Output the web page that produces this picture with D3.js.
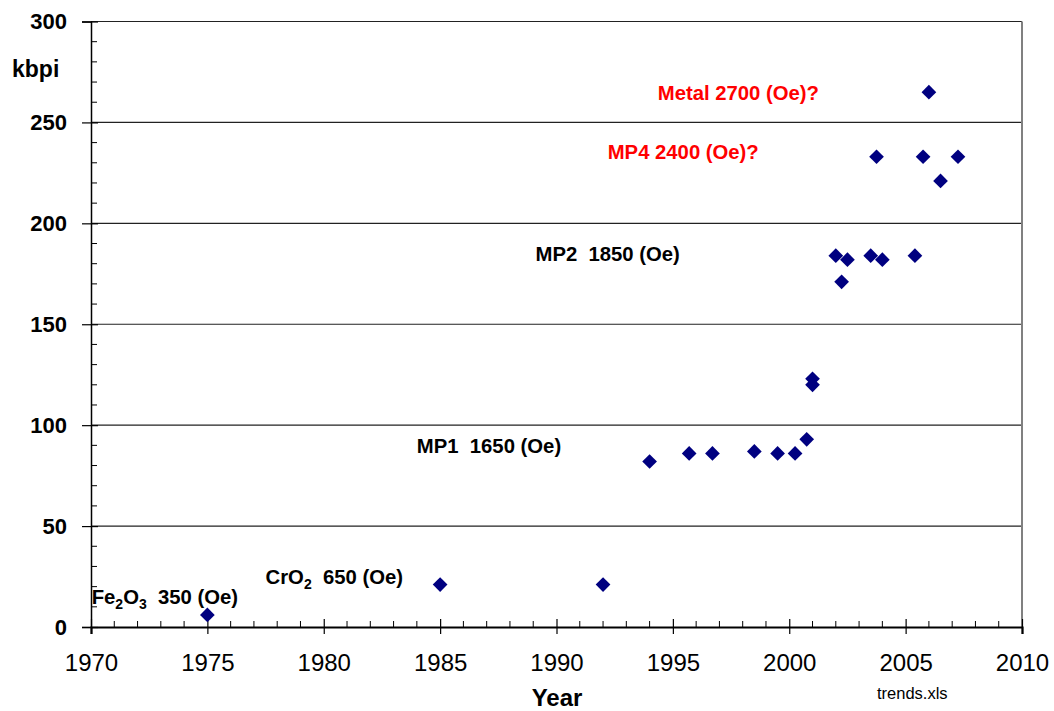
<!DOCTYPE html>
<html>
<head>
<meta charset="utf-8">
<script src="https://cdn.jsdelivr.net/npm/d3@7"></script>
<style>
  body { margin: 0; background: #fff; }
  svg { display: block; font-family: 'Liberation Sans', Arial, sans-serif; }
</style>
</head>
<body>
<div id="chart"></div>
<script>
// tape recording density by year
const years = [1975, 1985, 1992, 1994, 1995.7, 1996.7, 1998.5, 1999.5, 2000.25, 2000.75, 2001, 2001,
  2002, 2002.25, 2002.5, 2003.5, 2003.75, 2004, 2005.4, 2005.75, 2006, 2006.5, 2007.25]
const kbpi = [6, 21, 21, 82, 86, 86, 87, 86, 86, 93, 123, 120,
  184, 171, 182, 184, 233, 182, 184, 233, 265, 221, 233]

const xTicks = [1970, 1975, 1980, 1985, 1990, 1995, 2000, 2005, 2010]
const yTicks = [0, 50, 100, 150, 200, 250, 300]

// media annotations: [text parts, year, kbpi at baseline, colour]
const notes = [
  { parts: [['Fe', 0], ['2', 1], ['O', 0], ['3', 1], ['  350 (Oe)', 0]], x: 1970.03, y: 11.5, color: '#000' },
  { parts: [['CrO', 0], ['2', 1], ['  650 (Oe)', 0]], x: 1977.5, y: 21.5, color: '#000' },
  { parts: [['MP1  1650 (Oe)', 0]], x: 1984.0, y: 86, color: '#000' },
  { parts: [['MP2  1850 (Oe)', 0]], x: 1989.1, y: 181.5, color: '#000' },
  { parts: [['MP4 2400 (Oe)?', 0]], x: 1992.2, y: 232, color: '#ff0000' },
  { parts: [['Metal 2700 (Oe)?', 0]], x: 1994.35, y: 261, color: '#ff0000' }
]

const width = 1054
const height = 711
const margin = { top: 21.5, right: 32, bottom: 84, left: 91 }
const labelSize = 20.3

const svg = d3.select('#chart').append('svg')
  .attr('width', width)
  .attr('height', height)

const x = d3.scaleLinear().domain([1970, 2010]).range([margin.left, width - margin.right])
const y = d3.scaleLinear().domain([0, 300]).range([height - margin.bottom, margin.top])

// horizontal grid
svg.append('g')
  .selectAll('line')
  .data(yTicks.filter(d => d > 0))
  .join('line')
  .attr('x1', x(1970)).attr('x2', x(2010))
  .attr('y1', d => y(d)).attr('y2', d => y(d))
  .attr('stroke', '#222')
  .attr('stroke-width', 1.2)

// right border
svg.append('line')
  .attr('x1', x(2010)).attr('x2', x(2010))
  .attr('y1', y(300)).attr('y2', y(0))
  .attr('stroke', '#808080')
  .attr('stroke-width', 2)

// y axis
const yAxis = svg.append('g')
  .attr('transform', `translate(${x(1970)},0)`)
  .call(d3.axisLeft(y).tickValues(yTicks).tickSize(9).tickPadding(15))
yAxis.select('.domain').attr('stroke', '#000').attr('stroke-width', 1.5)
yAxis.selectAll('.tick line').attr('x2', -9).attr('x1', 7).attr('stroke', '#000').attr('stroke-width', 1.2)
yAxis.selectAll('.tick text')
  .attr('font-size', 22).attr('font-weight', 'bold').attr('fill', '#000')
  .attr('font-family', 'Liberation Sans, Arial, sans-serif')
yAxis.append('g')
  .selectAll('line')
  .data(d3.range(0, 301, 10).filter(d => d % 50 !== 0))
  .join('line')
  .attr('x1', 0).attr('x2', 6)
  .attr('y1', d => y(d)).attr('y2', d => y(d))
  .attr('stroke', '#000')

// x axis
const xAxis = svg.append('g')
  .attr('transform', `translate(0,${y(0)})`)
  .call(d3.axisBottom(x).tickValues(xTicks).tickFormat(d3.format('d')).tickSize(7).tickPadding(20))
xAxis.select('.domain').attr('stroke', '#000').attr('stroke-width', 2.2)
xAxis.selectAll('.tick line').attr('y1', -8).attr('y2', 7).attr('stroke', '#000').attr('stroke-width', 1.2)
xAxis.selectAll('.tick text')
  .attr('font-size', 24).attr('fill', '#000')
  .attr('font-family', 'Liberation Sans, Arial, sans-serif')
xAxis.append('g')
  .selectAll('line')
  .data(d3.range(1970, 2011).filter(d => d % 5 !== 0))
  .join('line')
  .attr('x1', d => x(d)).attr('x2', d => x(d))
  .attr('y1', 0).attr('y2', -6)
  .attr('stroke', '#000')

// points
const diamond = d3.symbol(d3.symbolSquare, 108)
svg.append('g')
  .selectAll('path')
  .data(years.map((d, i) => [d, kbpi[i]]))
  .join('path')
  .attr('d', diamond)
  .attr('transform', d => `translate(${x(d[0])},${y(d[1])}) rotate(45)`)
  .attr('fill', '#000080')

// annotations
const note = svg.append('g')
  .selectAll('text')
  .data(notes)
  .join('text')
  .attr('x', d => x(d.x))
  .attr('y', d => y(d.y))
  .attr('fill', d => d.color)
  .attr('font-size', labelSize)
  .attr('font-weight', 'bold')
note.each(function (d) {
  const t = d3.select(this)
  d.parts.forEach(([s, sub], i) => {
    const prev = i > 0 ? d.parts[i - 1][1] : 0
    t.append('tspan')
      .attr('dy', sub && !prev ? 5 : (!sub && prev ? -5 : 0))
      .attr('font-size', sub ? 14 : labelSize)
      .text(s)
  })
})

// axis titles
svg.append('text')
  .attr('x', 12).attr('y', 77)
  .attr('font-size', 23).attr('font-weight', 'bold')
  .text('kbpi')

svg.append('text')
  .attr('x', 557).attr('y', 706)
  .attr('text-anchor', 'middle')
  .attr('font-size', 24).attr('font-weight', 'bold')
  .text('Year')

svg.append('text')
  .attr('x', 877).attr('y', 699)
  .attr('font-size', 16.5)
  .text('trends.xls')

svg.selectAll('text').style('white-space', 'pre')
</script>
</body>
</html>
